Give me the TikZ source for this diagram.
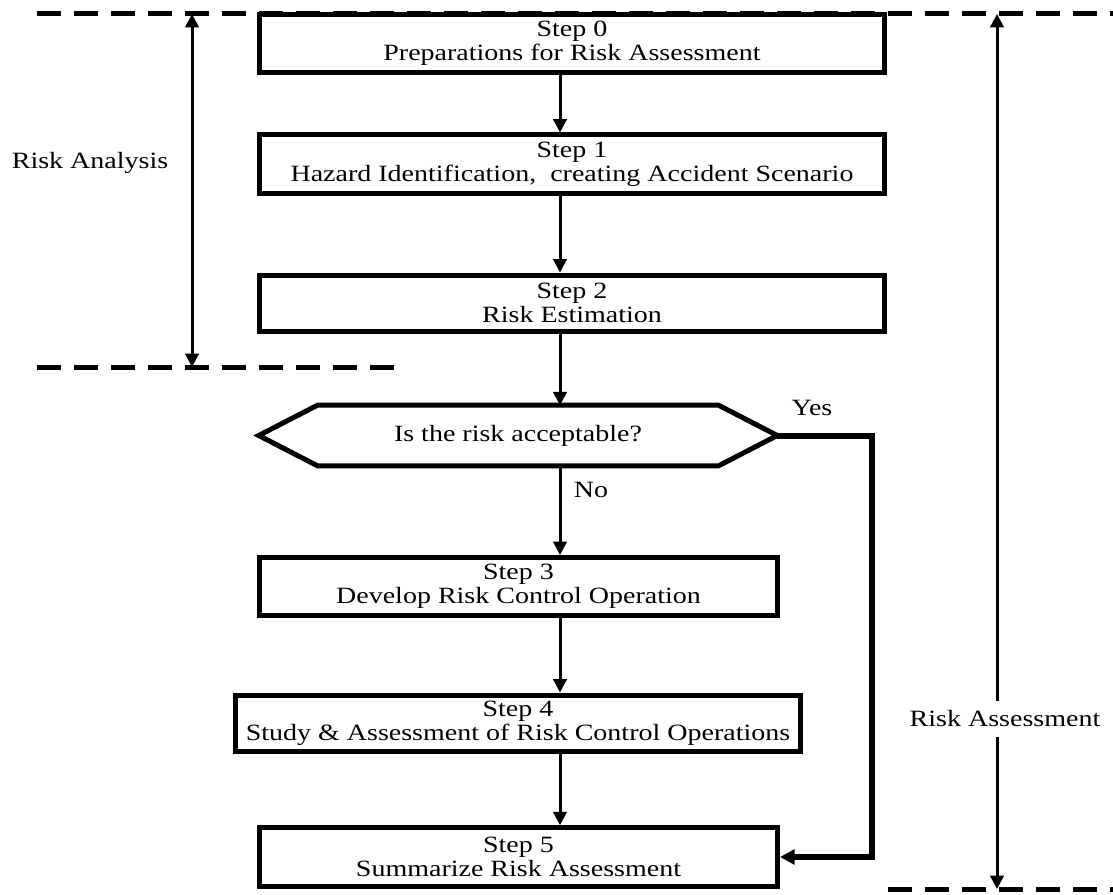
\documentclass[tikz,border=0pt]{standalone}
\usepackage{fontspec}
\setmainfont{Liberation Serif}[FakeStretch=1.2]
\usetikzlibrary{arrows.meta, positioning}
\tikzstyle{block} = [rectangle, draw=black, line width=3.75pt, fill=white, align=center,
    inner sep=0pt, minimum height=43.5pt, font=\fontsize{17.5}{18}\selectfont]
\tikzstyle{decision} = [rectangle, align=center, inner sep=0pt,
    minimum width=388.5pt, minimum height=45pt, font=\fontsize{17.5}{18}\selectfont]
\tikzstyle{outline} = [draw=black, line width=3.75pt, fill=white]
\tikzstyle{arrow} = [line width=2.25pt, -{Triangle[length=10pt,width=10pt]}]
\tikzstyle{span} = [line width=2.25pt, {Triangle[length=10pt,width=10pt]}-{Triangle[length=10pt,width=10pt]}]
\tikzstyle{feedback} = [line width=4.5pt, -{Triangle[length=11pt,width=11pt]}]
\tikzstyle{border} = [line width=3.75pt, dash pattern=on 18pt off 9.75pt]
\tikzstyle{sidetext} = [font=\fontsize{17.5}{18}\selectfont, inner sep=1pt]

\begin{document}
\begin{tikzpicture}[x=0.75pt, y=-0.75pt]
  \useasboundingbox (0,0) rectangle (1113,895);

  % phase borders
  \draw[border] (37,14) -- (1113,14);
  \draw[border] (37,367) -- (400,367);
  \draw[border] (888,889) -- (1113,889);

  % flow
  \coordinate (col)  at (560,0);
  \coordinate (loop) at (872,0);
  \node (step0) [block, minimum width=468.75pt] at (572,43.5) {Step 0\\Preparations for Risk Assessment};
  \node (step1) [block, minimum width=468.75pt] at (572,164) {Step 1\\Hazard Identification,\ \ creating Accident Scenario};
  \node (step2) [block, minimum width=468.75pt, minimum height=42pt] at (572,303) {Step 2\\Risk Estimation};
  \node (ask)   [decision] at (518,435.5) {};
  \draw[outline] (ask.west) -- ([xshift=44pt]ask.north west) -- ([xshift=-44pt]ask.north east)
    -- (ask.east) -- ([xshift=-44pt]ask.south east) -- ([xshift=44pt]ask.south west) -- cycle;
  \node (asktext) [sidetext] at (ask) {Is the risk acceptable?};
  \node (step3) [block, minimum width=388.5pt] at (518.5,586.5) {Step 3\\Develop Risk Control Operation};
  \node (step4) [block, minimum width=424pt, minimum height=42pt] at (518,723) {Step 4\\Study \& Assessment of Risk Control Operations};
  \node (step5) [block, minimum width=388.5pt, minimum height=44pt] at (518.5,857) {Step 5\\Summarize Risk Assessment};
  \node (yes) [sidetext] at (812,408) {Yes};
  \node (no)  [sidetext] at (591,490) {No};

  \draw[arrow] (step0.south -| col) -- (step1.north -| col);
  \draw[arrow] (step1.south -| col) -- (step2.north -| col);
  \draw[arrow] (step2.south -| col) -- (ask.north -| col);
  \draw[arrow] (ask.south -| col)   -- (step3.north -| col);
  \draw[arrow] (step3.south -| col) -- (step4.north -| col);
  \draw[arrow] (step4.south -| col) -- (step5.north -| col);
  \draw[feedback] (ask.east) -- (ask.east -| loop) |- (step5.east);

  % ranges
  \coordinate (ana top) at (192,14);
  \coordinate (ana bot) at (192,367);
  \coordinate (ass top) at (997,14);
  \coordinate (ass bot) at (997,889);
  \draw[span] (ana top) -- (ana bot);
  \draw[span] (ass top) -- (ass bot);
  \node (analysis)   [sidetext] at (90,163) {Risk Analysis};
  \node (assessment) [sidetext, fill=white, inner ysep=7pt] at (1005,719) {Risk Assessment};
\end{tikzpicture}
\end{document}
